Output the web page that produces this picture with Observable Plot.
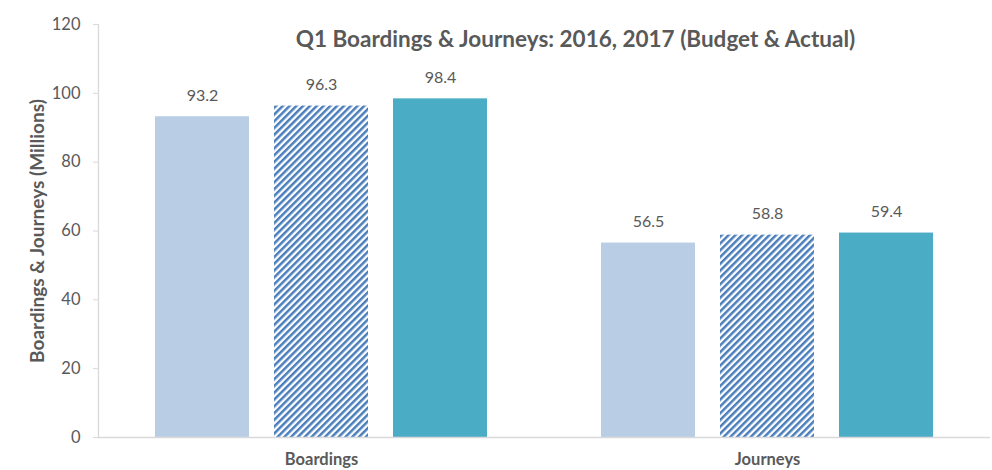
<!DOCTYPE html>
<html><head><meta charset="utf-8">
<script src="https://cdn.jsdelivr.net/npm/d3@7"></script>
<script src="https://cdn.jsdelivr.net/npm/@observablehq/plot@0.6"></script>
<style>
body{margin:0;background:#fff;}
#wrap{position:relative;width:992px;height:470px;}
#title{position:absolute;left:250px;top:25px;width:651px;text-align:center;font-family:Lato,sans-serif;font-weight:bold;font-size:22.5px;line-height:28px;color:#595959;white-space:nowrap;}
</style>
</head><body>
<div id="wrap"><div id="title"></div></div>
<script>
const title = "Q1 Boardings & Journeys: 2016, 2017 (Budget & Actual)";
const yLabel = "Boardings & Journeys (Millions)";
const categories = ["Boardings", "Journeys"];
const series = ["2016 Actual", "2017 Budget", "2017 Actual"];
const actual2016 = [93.2, 56.5];
const budget2017 = [96.3, 58.8];
const actual2017 = [98.4, 59.4];
const yTicks = [0, 20, 40, 60, 80, 100, 120];
const seriesFills = ["#b9cde5", "url(#hatch)", "#4bacc6"];

const valuesBySeries = [actual2016, budget2017, actual2017];
const data = [];
categories.forEach((c, i) => {
  series.forEach((s, j) => data.push({category: c, series: s, value: valuesBySeries[j][i]}));
});

document.getElementById("title").textContent = title;

const chart = Plot.plot({
  width: 992, height: 470,
  marginTop: 24, marginBottom: 33, marginLeft: 98, marginRight: 2,
  style: {fontFamily: "Lato, sans-serif", background: "transparent", overflow: "visible"},
  fx: {domain: categories, padding: 0, label: null},
  x: {domain: series, paddingInner: 0.213, paddingOuter: 0.472, axis: null},
  y: {domain: [0, 120]},
  color: {domain: series, range: seriesFills},
  marks: [
    Plot.barY(data, {fx: "category", x: "series", y: "value", fill: "series"}),
    Plot.text(data, {fx: "category", x: "series", y: "value", text: d => d.value.toFixed(1), dy: -21, fontSize: 16, fill: "#595959"}),
    Plot.ruleY([0], {stroke: "#d9d9d9", strokeWidth: 1.3}),
    Plot.frame({anchor: "left", facetAnchor: "left", stroke: "#d9d9d9", strokeWidth: 1.3}),
    Plot.axisY({ticks: yTicks, tickSize: 5, tickPadding: 13, fontSize: 16.5, stroke: "#d9d9d9", fill: "#595959",
      label: yLabel, labelAnchor: "center", labelOffset: 68, labelArrow: "none"}),
    Plot.axisFx({anchor: "bottom", tickSize: 0, tickPadding: 16, fontSize: 16.5, fontWeight: "bold", fill: "#595959", label: null})
  ]
});

const svg = d3.select(chart);
const defs = svg.insert("defs", ":first-child");
const P = 4.8;
const pat = defs.append("pattern").attr("id", "hatch").attr("patternUnits", "userSpaceOnUse")
  .attr("width", P).attr("height", P).attr("patternTransform", "rotate(45)");
pat.append("rect").attr("width", P).attr("height", P).attr("fill", "#fff");
pat.append("line").attr("x1", 1.25).attr("y1", 0).attr("x2", 1.25).attr("y2", P)
  .attr("stroke", "#4a7ebb").attr("stroke-width", 2.5);
svg.selectAll("text").filter(function() { return this.textContent === yLabel; })
  .attr("font-weight", "bold").attr("font-size", 19).attr("fill", "#595959");

document.getElementById("wrap").insertBefore(chart, document.getElementById("title"));
chart.style.position = "absolute"; chart.style.left = "0"; chart.style.top = "0";
</script>
</body></html>
